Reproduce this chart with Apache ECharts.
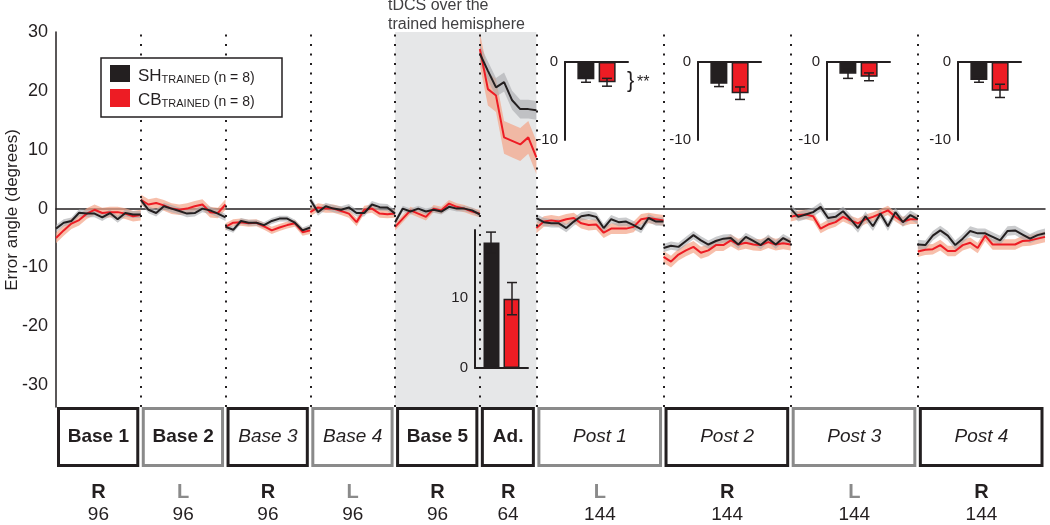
<!DOCTYPE html>
<html>
<head>
<meta charset="utf-8">
<script src="https://cdn.jsdelivr.net/npm/echarts@6/dist/echarts.min.js"></script>
<style>
  html, body { margin: 0; padding: 0; background: #fff; }
  #chart { width: 1050px; height: 525px; }
</style>
</head>
<body>
<div id="chart"></div>
<script>
// blocks of the session
const segNames = ['Base 1', 'Base 2', 'Base 3', 'Base 4', 'Base 5', 'Ad.', 'Post 1', 'Post 2', 'Post 3', 'Post 4']
const segItalic = [false, false, true, true, false, false, true, true, true, true]
const segHands = ['R', 'L', 'R', 'L', 'R', 'R', 'L', 'R', 'L', 'R']
const segTrials = [96, 96, 96, 96, 96, 64, 144, 144, 144, 144]
const yTicks = [-30, -20, -10, 0, 10, 20, 30]

// binned error angle (deg), one row per block
const shTrained = [
  [-3.4, -2.4, -2.1, -0.7, -0.85, -0.85, -1.5, -0.75, -1.8, -0.75, -1.0, -1.0],
  [1.5, -0.2, -0.75, 0.4, 0, -0.4, -0.85, -0.75, 0, -0.3, -0.85, -1.5],
  [-3.1, -3.6, -2.1, -2.4, -2.4, -2.8, -2.1, -1.7, -1.7, -2.4, -3.7, -3.2],
  [1.5, -0.6, 0.4, 0, -0.2, 0.2, -0.75, -0.75, 0.7, 0.25, 0.2, -0.85],
  [-2.3, 0, -0.5, 0, -0.5, -0.2, -0.5, 0.3, 0, 0, -0.3, -1.0],
  [26.3, 23.4, 20.6, 21.5, 18.4, 16.9, 16.9, 16.7],
  [-1.6, -2.3, -2.5, -2.5, -3.3, -2.2, -1.3, -1.1, -1.4, -3.3, -1.8, -2.3, -2.2, -2.8, -3.5, -1.6, -2.2, -2.2],
  [-6.7, -6.3, -6.5, -5.5, -4.5, -5.4, -6.1, -5.5, -5.1, -5.0, -6.1, -4.8, -5.5, -6.2, -5.1, -6.1, -5.0, -5.7],
  [0, -1.4, -1.0, -0.6, 0.3, -1.6, -1.4, -0.45, -1.8, -3.3, -1.3, -3.0, -0.85, -3.0, -0.6, -2.3, -1.1, -1.8],
  [-6.1, -6.2, -4.6, -3.7, -4.6, -6.2, -5.1, -3.8, -4.2, -4.2, -4.8, -5.4, -3.8, -3.7, -4.4, -5.1, -4.5, -4.2]
]
const cbTrained = [
  [-5.0, -3.7, -2.55, -1.95, -0.85, -0.2, -0.75, -0.6, -0.6, -0.85, -1.3, -1.1],
  [1.5, 0.7, 0.95, 0.55, 0, -0.2, 0, 0.4, 0.7, -0.6, -0.75, 0.7],
  [-3.1, -2.4, -2.3, -2.5, -2.4, -3.0, -3.7, -3.2, -2.8, -2.5, -4.0, -3.7],
  [-0.6, 0.2, 0, 0, -0.4, -0.85, -2.3, -0.2, 0, -0.85, -0.95, -0.85],
  [-3.1, -1.7, -0.3, -0.85, -1.4, 0, -0.3, 0.85, 0.3, 0, -0.5, -0.85],
  [27.1, 20.3, 19.2, 12.1, 11.5, 10.9, 12.1, 8.7],
  [-3.3, -2.2, -2.0, -2.2, -1.8, -1.6, -2.5, -2.8, -2.7, -4.1, -3.4, -3.4, -3.4, -3.1, -1.8, -1.6, -1.8, -2.0],
  [-8.2, -9.0, -7.8, -7.1, -6.5, -7.5, -7.1, -6.2, -6.2, -5.4, -6.1, -5.8, -6.1, -6.2, -5.7, -6.1, -5.9, -6.1],
  [-1.4, -1.1, -1.0, -1.3, -3.4, -2.7, -2.3, -1.4, -2.0, -2.5, -1.8, -1.4, -0.85, -0.3, -1.4, -2.2, -1.8, -1.8],
  [-7.3, -7.0, -6.9, -6.2, -7.2, -7.2, -6.2, -5.8, -6.7, -4.6, -6.1, -6.1, -6.1, -6.1, -5.5, -5.4, -5.1, -4.8]
]
// shaded SEM half width per block
const shSem = [0.6, 0.6, 0.5, 0.6, 0.5, 1.6, 0.7, 0.7, 0.8, 0.8]
const cbSem = [0.9, 0.9, 0.6, 0.7, 0.6, 2.8, 0.9, 1.0, 0.8, 0.9]

// inset bars (Ad. and Post blocks)
const insetNames = ['Ad.', 'Post 1', 'Post 2', 'Post 3', 'Post 4']
const shInset = [17.9, -2.2, -2.8, -1.5, -2.3]
const shInsetErr = [1.5, 0.4, 0.35, 0.6, 0.3]
const cbInset = [9.9, -2.6, -4.0, -1.9, -3.7]
const cbInsetErr = [2.3, 0.5, 0.8, 0.5, 0.85]

const BLACK = '#231f20'
const RED = '#ed1c24'
const GREY = '#8a8a8a'
const FONT = 'Liberation Sans, Arial, sans-serif'

// block start positions (in trials)
const segStart = []
segTrials.reduce((acc, n, i) => { segStart[i] = acc; return acc + n }, 0)
const totalTrials = segStart[9] + segTrials[9]

function xOf (s, i, n) {
  return segStart[s] + i * segTrials[s] / (n - 1)
}

// line data with gaps between blocks
function lineData (rows) {
  const out = []
  rows.forEach((row, s) => {
    row.forEach((v, i) => out.push([xOf(s, i, row.length), v]))
    out.push([segStart[s] + segTrials[s], '-'])
  })
  return out
}

function bandRender (rows, sems, color, opacity) {
  return function (params, api) {
    const s = params.dataIndex
    const row = rows[s]
    const top = []
    const bot = []
    row.forEach((v, i) => {
      const x = xOf(s, i, row.length)
      top.push(api.coord([x, v + sems[s]]))
      bot.unshift(api.coord([x, v - sems[s]]))
    })
    return {
      type: 'polygon',
      shape: { points: top.concat(bot) },
      style: { fill: color, opacity: opacity }
    }
  }
}

function errRender (params, api) {
  const side = api.value(3)
  const a = api.coord([api.value(0), api.value(1)])
  const b = api.coord([api.value(0), api.value(2)])
  const x = a[0] + side * 10.5
  const cap = 5
  const st = { stroke: BLACK, lineWidth: 1.5 }
  return {
    type: 'group',
    children: [
      { type: 'line', shape: { x1: x, y1: a[1], x2: x, y2: b[1] }, style: st },
      { type: 'line', shape: { x1: x - cap, y1: a[1], x2: x + cap, y2: a[1] }, style: st },
      { type: 'line', shape: { x1: x - cap, y1: b[1], x2: x + cap, y2: b[1] }, style: st }
    ]
  }
}

const chart = echarts.init(document.getElementById('chart'))

const insetGrids = [
  { left: 475, top: 230, width: 53, height: 138 },
  { left: 565, top: 62, width: 63, height: 78 },
  { left: 698, top: 62, width: 63, height: 78 },
  { left: 827, top: 62, width: 63, height: 78 },
  { left: 958, top: 62, width: 63, height: 78 }
]

const grids = [{ left: 56, right: 5, top: 32, bottom: 118 }].concat(insetGrids)
grids.forEach(g => { g.outerBoundsMode = 'none'; g.containLabel = false })

const xAxes = [{
  type: 'value',
  gridIndex: 0,
  min: 0,
  max: totalTrials,
  axisLine: { onZero: true, lineStyle: { color: BLACK, width: 1.5 } },
  axisTick: { show: false },
  axisLabel: { show: false },
  splitLine: { show: false }
}]
const yAxes = [{
  type: 'value',
  gridIndex: 0,
  min: -33.7,
  max: 30,
  axisLine: { show: true, lineStyle: { color: BLACK, width: 1.5 } },
  axisTick: { show: false },
  splitLine: { show: false },
  axisLabel: { customValues: yTicks, color: BLACK, fontSize: 18, fontFamily: FONT, margin: 8 }
}]

insetNames.forEach((name, k) => {
  const isAd = k === 0
  xAxes.push({
    type: 'category',
    gridIndex: k + 1,
    data: [name],
    z: 10,
    position: isAd ? 'bottom' : 'top',
    axisLine: { lineStyle: { color: BLACK, width: 2 } },
    axisTick: { show: false },
    axisLabel: { show: false }
  })
  yAxes.push({
    type: 'value',
    gridIndex: k + 1,
    z: 10,
    min: isAd ? 0 : -10,
    max: isAd ? 19.7 : 0,
    axisLine: { show: true, lineStyle: { color: BLACK, width: 2 } },
    axisTick: { show: false },
    splitLine: { show: false },
    axisLabel: { customValues: isAd ? [0, 10] : [0, -10], color: BLACK, fontSize: 15, fontFamily: FONT, margin: 7 }
  })
})

const boundaries = segStart.slice(1).map(v => ({ xAxis: v }))

const series = [
  {
    // shaded tDCS period and block separators
    type: 'line',
    data: [],
    z: 1,
    silent: true,
    markArea: {
      silent: true,
      itemStyle: { color: '#e6e7e8' },
      data: [[{ xAxis: segStart[4] }, { xAxis: segStart[5] + segTrials[5] }]]
    },
    markLine: {
      silent: true,
      symbol: 'none',
      label: { show: false },
      lineStyle: { color: BLACK, type: [2, 7.5], width: 2 },
      data: boundaries
    }
  },
  {
    type: 'custom',
    z: 2,
    silent: true,
    renderItem: bandRender(cbTrained, cbSem, '#f4a487', 0.7),
    data: segStart.map(v => [v, 0])
  },
  {
    type: 'custom',
    z: 2,
    silent: true,
    renderItem: bandRender(shTrained, shSem, '#a7a9ac', 0.6),
    data: segStart.map(v => [v, 0])
  },
  {
    name: 'CB',
    type: 'line',
    z: 3,
    symbol: 'none',
    lineStyle: { color: RED, width: 2 },
    data: lineData(cbTrained)
  },
  {
    name: 'SH',
    type: 'line',
    z: 4,
    symbol: 'none',
    lineStyle: { color: BLACK, width: 2 },
    data: lineData(shTrained)
  }
]

insetNames.forEach((name, k) => {
  const bw = k === 0 ? 16 : 17
  series.push({
    type: 'bar',
    xAxisIndex: k + 1,
    yAxisIndex: k + 1,
    barWidth: bw,
    barGap: '25%',
    z: 5,
    itemStyle: { color: BLACK, borderColor: BLACK, borderWidth: 1.5 },
    data: [shInset[k]]
  }, {
    type: 'bar',
    xAxisIndex: k + 1,
    yAxisIndex: k + 1,
    barWidth: bw,
    barGap: '25%',
    z: 5,
    itemStyle: { color: RED, borderColor: BLACK, borderWidth: 1.5 },
    data: [cbInset[k]]
  }, {
    type: 'custom',
    xAxisIndex: k + 1,
    yAxisIndex: k + 1,
    z: 6,
    renderItem: errRender,
    encode: { x: 0, y: [1, 2] },
    data: [
      [0, shInset[k] - shInsetErr[k], shInset[k] + shInsetErr[k], -1],
      [0, cbInset[k] - cbInsetErr[k], cbInset[k] + cbInsetErr[k], 1]
    ]
  })
})

chart.setOption({
  animation: false,
  backgroundColor: '#fff',
  grid: grids,
  xAxis: xAxes,
  yAxis: yAxes,
  series: series
})

// blocks, legend and notes
const graphic = []
segNames.forEach((name, s) => {
  const x0 = chart.convertToPixel({ xAxisIndex: 0 }, segStart[s])
  const x1 = chart.convertToPixel({ xAxisIndex: 0 }, segStart[s] + segTrials[s])
  const cx = (x0 + x1) / 2
  const handCol = segHands[s] === 'R' ? BLACK : GREY
  graphic.push({
    type: 'rect',
    shape: { x: x0 + 2.5, y: 408.5, width: x1 - x0 - 5.5, height: 57 },
    style: { fill: '#fff', stroke: handCol, lineWidth: 3 }
  }, {
    type: 'text',
    x: cx,
    y: 437,
    style: {
      text: name,
      fill: BLACK,
      font: (segItalic[s] ? 'italic ' : 'bold ') + '19px ' + FONT,
      align: 'center',
      verticalAlign: 'middle'
    }
  }, {
    type: 'text',
    x: cx,
    y: 492,
    style: { text: segHands[s], fill: handCol, font: 'bold 20px ' + FONT, align: 'center', verticalAlign: 'middle' }
  }, {
    type: 'text',
    x: cx,
    y: 515,
    style: { text: String(segTrials[s]), fill: BLACK, font: '19px ' + FONT, align: 'center', verticalAlign: 'middle' }
  })
})

// y axis title
graphic.push({
  type: 'text',
  x: 12,
  y: 210,
  rotation: Math.PI / 2,
  style: { text: 'Error angle (degrees)', fill: BLACK, font: '17px ' + FONT, align: 'center', verticalAlign: 'middle' }
})

// legend box
const legendRich = {
  a: { fontSize: 17, fontFamily: FONT, fill: BLACK, verticalAlign: 'bottom', lineHeight: 20 },
  s: { fontSize: 11, fontFamily: FONT, fill: BLACK, verticalAlign: 'bottom', lineHeight: 16 },
  b: { fontSize: 14, fontFamily: FONT, fill: BLACK, verticalAlign: 'bottom', lineHeight: 22 }
}
graphic.push({
  type: 'rect',
  shape: { x: 101, y: 58, width: 181, height: 59 },
  style: { fill: '#fff', stroke: BLACK, lineWidth: 1.5 },
  z: 100
}, {
  type: 'rect', shape: { x: 110, y: 65, width: 20, height: 17 }, style: { fill: BLACK }, z: 101
}, {
  type: 'rect', shape: { x: 110, y: 89, width: 20, height: 18 }, style: { fill: RED }, z: 101
}, {
  type: 'text', x: 138, y: 74, z: 101,
  style: { text: '{a|SH}{s|TRAINED}{b| (n = 8)}', rich: legendRich, verticalAlign: 'middle' }
}, {
  type: 'text', x: 138, y: 98, z: 101,
  style: { text: '{a|CB}{s|TRAINED}{b| (n = 8)}', rich: legendRich, verticalAlign: 'middle' }
})

// title over shaded region
graphic.push({
  type: 'text', x: 388, y: -4,
  style: { text: 'tDCS over the\ntrained hemisphere', fill: '#414042', font: '16px ' + FONT, lineHeight: 19, verticalAlign: 'top' }
})

// significance bracket on Ad. inset
const pSh = chart.convertToPixel({ xAxisIndex: 1, yAxisIndex: 1 }, [0, shInset[0] + shInsetErr[0]])
const pCb = chart.convertToPixel({ xAxisIndex: 1, yAxisIndex: 1 }, [0, cbInset[0] + cbInsetErr[0]])
const bx0 = pSh[0] - 10.5
const bx1 = pCb[0] + 10.5
const by = pSh[1] - 13
graphic.push({
  type: 'polyline',
  shape: { points: [[bx0, pSh[1]], [bx0, by], [bx1, by], [bx1, pCb[1] - 18]] },
  style: { stroke: BLACK, lineWidth: 1.5, fill: null }
}, {
  type: 'text', x: (bx0 + bx1) / 2, y: by - 4,
  style: { text: '*', fill: BLACK, font: '16px ' + FONT, align: 'center', verticalAlign: 'middle' }
})

// Post 1 inset: brace and stars
const p1 = chart.convertToPixel({ xAxisIndex: 2, yAxisIndex: 2 }, [0, -2.4])
graphic.push({
  type: 'text', x: insetGrids[1].left + insetGrids[1].width - 1, y: p1[1],
  style: { text: '}', fill: BLACK, font: '22px ' + FONT, verticalAlign: 'middle' }
}, {
  type: 'text', x: insetGrids[1].left + insetGrids[1].width + 9, y: p1[1] + 2,
  style: { text: '**', fill: BLACK, font: '16px ' + FONT, verticalAlign: 'middle' }
})

chart.setOption({ graphic: graphic })
</script>
</body>
</html>
